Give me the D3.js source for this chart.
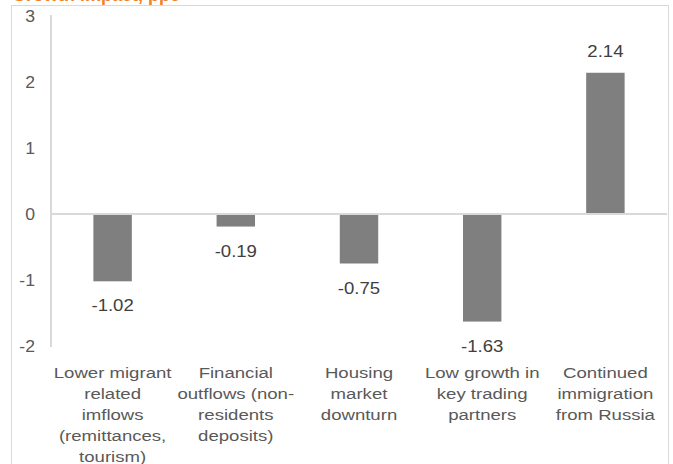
<!DOCTYPE html>
<html>
<head>
<meta charset="utf-8">
<script src="https://cdn.jsdelivr.net/npm/d3@7"></script>
<style>
  body { margin: 0; background: #fff; }
  svg { display: block; font-family: "Liberation Sans", Arial, sans-serif; }
</style>
</head>
<body>
<svg width="673" height="464"></svg>
<script>
// categories and values
var categories = [
    ["Lower migrant", "related", "imflows", "(remittances,", "tourism)"],
    ["Financial", "outflows (non-", "residents", "deposits)"],
    ["Housing", "market", "downturn"],
    ["Low growth in", "key trading", "partners"],
    ["Continued", "immigration", "from Russia"]
];
var values = [-1.02, -0.19, -0.75, -1.63, 2.14];
var yTicks = [3, 2, 1, 0, -1, -2];
var title = "Growth impact, ppc";

var svg = d3.select("svg");

// text in the picture is a bit wide for its height
function place(sel, sx, fx, fy) {
    return sel.attr("transform", function(d, i) {
        return "translate(" + fx(d, i) + "," + fy(d, i) + ") scale(" + sx + ",1)";
    });
}

// outer chart border (bottom edge runs off the picture)
svg.append("rect")
    .attr("x", 11.5).attr("y", 5.5)
    .attr("width", 657).attr("height", 470)
    .attr("fill", "none")
    .attr("stroke", "#d9d9d9");

// title, mostly cut off at the top
svg.append("text")
    .attr("x", 12).attr("y", 0.5)
    .attr("fill", "#f0822a")
    .attr("font-weight", "bold")
    .attr("font-size", 18)
    .text(title);

var x = d3.scaleBand()
    .domain(d3.range(values.length))
    .range([51, 667])
    .paddingInner(0.688)
    .paddingOuter(0.344);

var y = d3.scaleLinear()
    .domain([-2, 3])
    .range([346, 16]);

// y axis line
svg.append("line")
    .attr("x1", 51).attr("x2", 51)
    .attr("y1", y(3) - 1).attr("y2", y(-2) + 1)
    .attr("stroke", "#d9d9d9")
    .attr("stroke-width", 2);

// y tick labels
place(svg.selectAll(".ytick")
    .data(yTicks)
    .enter().append("text")
    .attr("class", "ytick")
    .attr("text-anchor", "end")
    .attr("font-size", 16)
    .attr("fill", "#595959")
    .text(function(d) { return d; }),
    1.1,
    function() { return 35; },
    function(d) { return y(d) + 6; });

// bars
svg.selectAll(".bar")
    .data(values)
    .enter().append("rect")
    .attr("class", "bar")
    .attr("x", function(d, i) { return x(i); })
    .attr("y", function(d) { return y(Math.max(0, d)); })
    .attr("width", x.bandwidth())
    .attr("height", function(d) { return Math.abs(y(d) - y(0)); })
    .attr("fill", "#7f7f7f");

// zero line
svg.append("line")
    .attr("x1", 51).attr("x2", 667)
    .attr("y1", y(0)).attr("y2", y(0))
    .attr("stroke", "#d9d9d9")
    .attr("stroke-width", 2);

// data labels
place(svg.selectAll(".dlabel")
    .data(values)
    .enter().append("text")
    .attr("class", "dlabel")
    .attr("text-anchor", "middle")
    .attr("font-size", 16)
    .attr("fill", "#404040")
    .text(function(d) { return d.toFixed(2); }),
    1.16,
    function(d, i) { return x(i) + x.bandwidth() / 2; },
    function(d) { return d >= 0 ? y(d) - 15.5 : y(d) + 30; });

// category labels
var cat = place(svg.selectAll(".cat")
    .data(categories)
    .enter().append("text")
    .attr("class", "cat")
    .attr("text-anchor", "middle")
    .attr("font-size", 15)
    .attr("fill", "#595959"),
    1.24,
    function(d, i) { return x(i) + x.bandwidth() / 2; },
    function() { return 377.5; });

cat.selectAll("tspan")
    .data(function(d) { return d; })
    .enter().append("tspan")
    .attr("x", 0)
    .attr("y", function(d, j) { return j * 21.2; })
    .text(function(d) { return d; });
</script>
</body>
</html>
